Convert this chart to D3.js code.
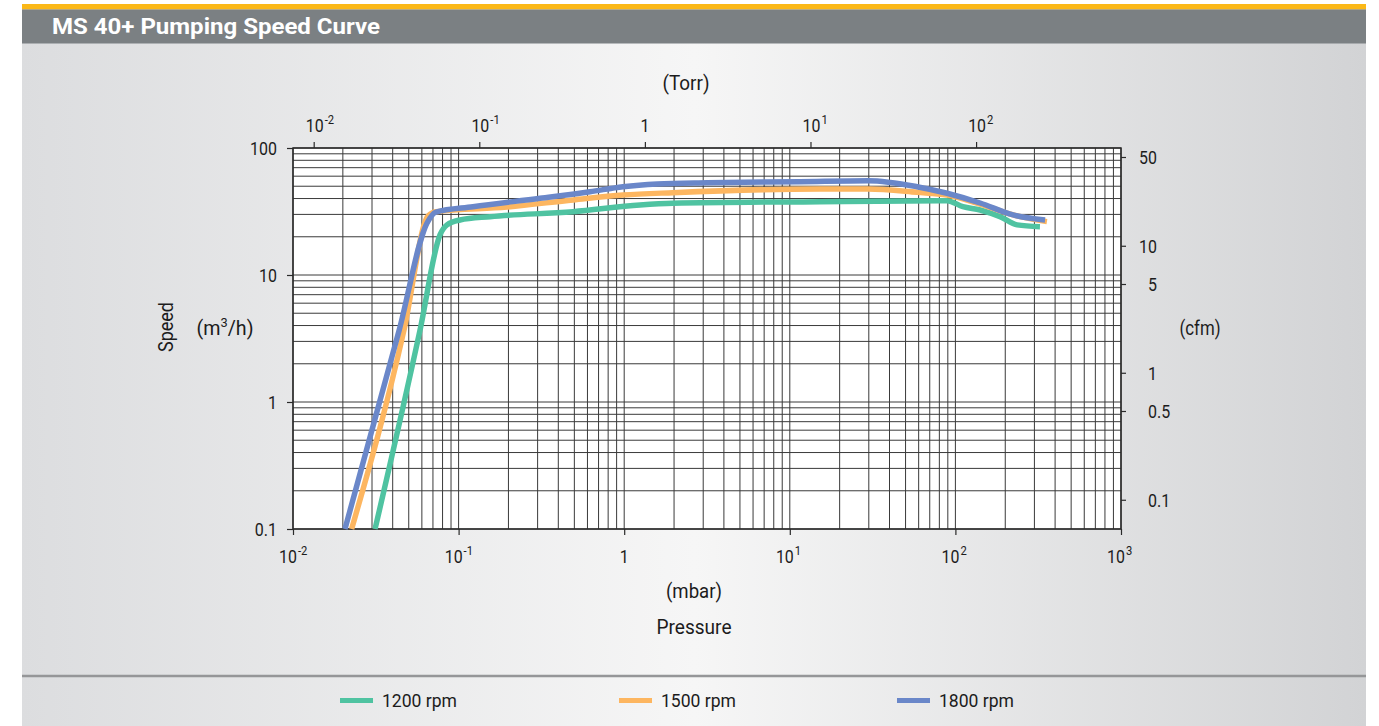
<!DOCTYPE html>
<html><head><meta charset="utf-8">
<script src="https://cdn.jsdelivr.net/npm/d3@7"></script>
<style>
html,body{margin:0;padding:0;background:#fff;}
svg{display:block;}
text{font-family:Roboto,"Liberation Sans",sans-serif;fill:#1c1c1c;}
</style></head><body>
<svg id="chart" width="1379" height="726"></svg>
<script>
const title = "MS 40+ Pumping Speed Curve";
const seriesNames = ["1200 rpm", "1500 rpm", "1800 rpm"];
const seriesColors = ["#4fc3a1", "#fdb660", "#6a87c9"];

const pressure1200 = [0.0313, 0.0585, 0.0772, 0.0851, 0.102, 0.155, 0.491, 1.245, 1.97, 15.2, 89.0, 111, 141, 186, 236, 324];
const speed1200    = [0.1, 3.69, 20.7, 24.8, 27.1, 28.8, 31.5, 35.6, 36.7, 37.8, 38.5, 34.5, 32.5, 28.8, 24.8, 24.0];
const pressure1500 = [0.0226, 0.0468, 0.0653, 0.0730, 0.196, 0.491, 0.983, 1.97, 15.2, 29.7, 58.6, 89.0, 141, 223, 357];
const speed1500    = [0.1, 3.69, 29.1, 31.5, 34.3, 39.0, 42.6, 44.5, 47.6, 47.6, 44.8, 42.6, 36.2, 29.7, 26.3];
const pressure1800 = [0.0206, 0.0438, 0.0645, 0.0730, 0.122, 0.310, 0.622, 0.983, 1.58, 3.16, 11.5, 29.7, 58.6, 89.0, 141, 223, 348];
const speed1800    = [0.1, 3.69, 25.7, 31.3, 34.5, 40.2, 45.3, 49.6, 52.1, 53.3, 54.3, 55.3, 49.6, 44.0, 36.9, 29.7, 27.1];

const mbarTicks = [0.01, 0.1, 1, 10, 100, 1000];
const mbarTickLabels = [["10", "-2"], ["10", "-1"], ["1", ""], ["10", "1"], ["10", "2"], ["10", "3"]];
const torrTicks = [0.01, 0.1, 1, 10, 100];
const torrTickLabels = [["10", "-2"], ["10", "-1"], ["1", ""], ["10", "1"], ["10", "2"]];
const speedTicks = [100, 10, 1, 0.1];
const speedTickLabels = ["100", "10", "1", "0.1"];
const cfmTicks = [50, 10, 5, 1, 0.5, 0.1];
const cfmTickLabels = ["50", "10", "5", "1", "0.5", "0.1"];

const TORR_PER_MBAR = 0.750062;
const CFM_PER_M3H = 0.588578;

const svg = d3.select("#chart");
const defs = svg.append("defs");
const grad = defs.append("linearGradient").attr("id", "bg").attr("x1", "0").attr("x2", "1").attr("y1", "0").attr("y2", "0");
grad.append("stop").attr("offset", "0").attr("stop-color", "#dcdddf");
grad.append("stop").attr("offset", "0.5").attr("stop-color", "#f6f6f6");
grad.append("stop").attr("offset", "1").attr("stop-color", "#d2d3d5");

function condense(t, factor) {
  const n = t.node();
  const w = n.getComputedTextLength();
  t.attr("textLength", (w * factor).toFixed(1)).attr("lengthAdjust", "spacingAndGlyphs");
  return t;
}
function fitWidth(t, w) {
  t.attr("textLength", w).attr("lengthAdjust", "spacingAndGlyphs");
  return t;
}

// panel
svg.append("rect").attr("x", 22).attr("y", 4).attr("width", 1344).attr("height", 722).attr("fill", "url(#bg)");
svg.append("rect").attr("x", 22).attr("y", 4).attr("width", 1344).attr("height", 5.5).attr("fill", "#fbb817");
svg.append("rect").attr("x", 22).attr("y", 9.5).attr("width", 1344).attr("height", 34).attr("fill", "#7b8083");
fitWidth(svg.append("text").attr("x", 52).attr("y", 34).attr("font-size", 22).attr("font-weight", "bold")
  .style("fill", "#ffffff").text(title), 328);

const L = 293, R = 1121, T = 148, B = 529;
const x = d3.scaleLog().domain([0.01, 1000]).range([L, R]);
const y = d3.scaleLog().domain([0.1, 100]).range([B, T]);
const xTorr = d3.scaleLog().domain([0.01 * TORR_PER_MBAR, 1000 * TORR_PER_MBAR]).range([L, R]);
const yCfm = d3.scaleLog().domain([0.1 * CFM_PER_M3H, 100 * CFM_PER_M3H]).range([B, T]);

// plot bg
svg.append("rect").attr("x", L).attr("y", T).attr("width", R - L).attr("height", B - T).attr("fill", "#ffffff");

// grid
const grid = svg.append("g").attr("stroke", "#3a3a3a").attr("stroke-width", 1);
grid.selectAll("line.v").data(x.ticks()).join("line").attr("class", "v")
  .attr("x1", d => x(d)).attr("x2", d => x(d)).attr("y1", T).attr("y2", B);
grid.selectAll("line.h").data(y.ticks()).join("line").attr("class", "h")
  .attr("x1", L).attr("x2", R).attr("y1", d => y(d)).attr("y2", d => y(d));
svg.append("rect").attr("x", L).attr("y", T).attr("width", R - L).attr("height", B - T)
  .attr("fill", "none").attr("stroke", "#2a2a2a").attr("stroke-width", 1.5);

// axes tick marks
function styleAxis(g) {
  g.select(".domain").remove();
  g.selectAll(".tick line").attr("stroke", "#2a2a2a").attr("stroke-width", 1.2);
  g.selectAll(".tick text").remove();
}
svg.append("g").attr("transform", `translate(0,${B})`).call(d3.axisBottom(x).tickValues(mbarTicks).tickSize(6)).call(styleAxis);
svg.append("g").attr("transform", `translate(0,${T})`).call(d3.axisTop(xTorr).tickValues(torrTicks).tickSize(6)).call(styleAxis);
svg.append("g").attr("transform", `translate(${L},0)`).call(d3.axisLeft(y).tickValues(speedTicks).tickSize(6)).call(styleAxis);
svg.append("g").attr("transform", `translate(${R},0)`).call(d3.axisRight(yCfm).tickValues(cfmTicks).tickSize(5)).call(styleAxis);

// tick labels
const TF = 0.84;
function powLabel(px, py, base, exp, shift) {
  if (!exp) {
    condense(svg.append("text").attr("x", px).attr("y", py).attr("text-anchor", "middle").attr("font-size", 19).text(base), TF);
    return;
  }
  condense(svg.append("text").attr("x", px + shift).attr("y", py).attr("text-anchor", "end").attr("font-size", 19).text(base), TF);
  condense(svg.append("text").attr("x", px + shift + 1).attr("y", py - 8).attr("text-anchor", "start").attr("font-size", 12.5).text(exp), 0.9);
}
mbarTicks.forEach((v, i) => powLabel(x(v), 563, mbarTickLabels[i][0], mbarTickLabels[i][1], 4));
torrTicks.forEach((v, i) => powLabel(xTorr(v), 132, torrTickLabels[i][0], torrTickLabels[i][1], 10));
speedTicks.forEach((v, i) => {
  condense(svg.append("text").attr("x", 277).attr("y", y(v)).attr("dy", "0.36em").attr("text-anchor", "end").attr("font-size", 19).text(speedTickLabels[i]), TF);
});
cfmTicks.forEach((v, i) => {
  const small = v < 1;
  condense(svg.append("text").attr("x", small ? 1148 : 1157).attr("y", yCfm(v)).attr("dy", "0.36em")
    .attr("text-anchor", small ? "start" : "end").attr("font-size", 19).text(cfmTickLabels[i]), TF);
});

// axis titles
fitWidth(svg.append("text").attr("x", 686).attr("y", 90).attr("text-anchor", "middle").attr("font-size", 20).text("(Torr)"), 47);
fitWidth(svg.append("text").attr("x", 694).attr("y", 598).attr("text-anchor", "middle").attr("font-size", 20).text("(mbar)"), 56);
fitWidth(svg.append("text").attr("x", 694).attr("y", 634).attr("text-anchor", "middle").attr("font-size", 20).text("Pressure"), 75);
fitWidth(svg.append("text").attr("transform", "translate(173,327) rotate(-90)").attr("text-anchor", "middle").attr("font-size", 20).text("Speed"), 50);
const mu = svg.append("text").attr("x", 225).attr("y", 335).attr("text-anchor", "middle").attr("font-size", 20);
mu.append("tspan").text("(m");
mu.append("tspan").attr("font-size", 13).attr("dy", -8).text("3");
mu.append("tspan").attr("dy", 8).text("/h)");
fitWidth(mu, 57);
fitWidth(svg.append("text").attr("x", 1200).attr("y", 335).attr("text-anchor", "middle").attr("font-size", 20).text("(cfm)"), 41);

// lines
const series = [
  {p: pressure1200, s: speed1200},
  {p: pressure1500, s: speed1500},
  {p: pressure1800, s: speed1800}
];
const line = d3.line().x(d => x(d[0])).y(d => y(d[1])).curve(d3.curveMonotoneX);
series.forEach((sr, i) => {
  svg.append("path").datum(sr.p.map((p, j) => [p, sr.s[j]]))
    .attr("d", line).attr("fill", "none").attr("stroke", seriesColors[i]).attr("stroke-width", 5.5);
});

// legend
svg.append("line").attr("x1", 22).attr("x2", 1366).attr("y1", 676).attr("y2", 676).attr("stroke", "#959698").attr("stroke-width", 2.5);
const legendX = [340, 619, 897];
seriesNames.forEach((n, i) => {
  svg.append("rect").attr("x", legendX[i]).attr("y", 698).attr("width", 33).attr("height", 5).attr("fill", seriesColors[i]);
  fitWidth(svg.append("text").attr("x", legendX[i] + 42).attr("y", 707).attr("font-size", 19).text(n), 75);
});
</script>
</body></html>
